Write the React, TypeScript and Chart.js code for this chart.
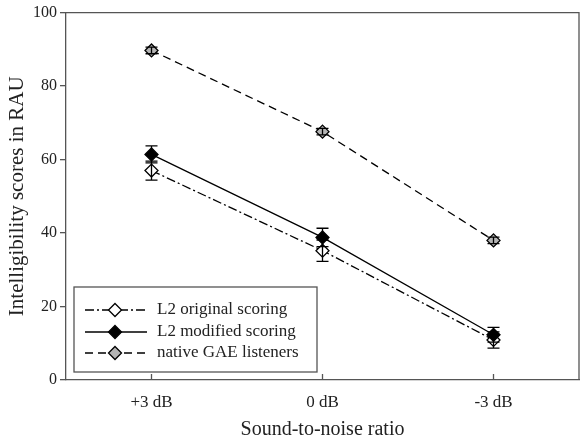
import React, { useEffect, useRef } from "react";
import { Chart, registerables } from "chart.js";
Chart.register(...registerables);

const categories = ["+3 dB", "0 dB", "-3 dB"];
const seriesNames = ["L2 original scoring", "L2 modified scoring", "native GAE listeners"];
const originalValues = [57, 35.2, 10.9];
const originalErrors = [2.6, 2.9, 2.2];
const modifiedValues = [61.4, 38.8, 12.3];
const modifiedErrors = [2.3, 2.5, 2.0];
const nativeValues = [89.7, 67.6, 38];
const nativeErrors = [0.9, 0.9, 0.9];
const yMin = 0;
const yMax = 100;
const yStep = 20;

const FONT = "'Liberation Serif', 'Times New Roman', serif";
const AXIS = "#555";
const TEXT = "#222";

const errorBarPlugin = {
  id: "errorBars",
  afterDatasetsDraw(chart: any) {
    const ctx = chart.ctx;
    const yScale = chart.scales.y;
    chart.data.datasets.forEach((ds: any, i: number) => {
      const meta = chart.getDatasetMeta(i);
      if (!ds.errors) return;
      ctx.save();
      ctx.strokeStyle = "#000";
      ctx.lineWidth = 1.3;
      ctx.setLineDash([]);
      meta.data.forEach((el: any, j: number) => {
        const v = ds.data[j];
        const e = ds.errors[j];
        const yt = yScale.getPixelForValue(v + e);
        const yb = yScale.getPixelForValue(v - e);
        const x = el.x;
        ctx.beginPath();
        ctx.moveTo(x, yt);
        ctx.lineTo(x, yb);
        ctx.moveTo(x - 6, yt);
        ctx.lineTo(x + 6, yt);
        ctx.moveTo(x - 6, yb);
        ctx.lineTo(x + 6, yb);
        ctx.stroke();
      });
      ctx.restore();
    });
  },
};

function drawDiamond(ctx: CanvasRenderingContext2D, x: number, y: number, r: number, fill: string) {
  ctx.beginPath();
  ctx.moveTo(x, y - r);
  ctx.lineTo(x + r, y);
  ctx.lineTo(x, y + r);
  ctx.lineTo(x - r, y);
  ctx.closePath();
  ctx.fillStyle = fill;
  ctx.fill();
  ctx.strokeStyle = "#000";
  ctx.lineWidth = 1.3;
  ctx.setLineDash([]);
  ctx.stroke();
}

const framePlugin = {
  id: "frameAndLegend",
  afterDraw(chart: any) {
    const ctx = chart.ctx;
    const { left, right, top, bottom } = chart.chartArea;
    const xScale = chart.scales.x;
    ctx.save();
    ctx.strokeStyle = AXIS;
    ctx.lineWidth = 1.3;
    ctx.beginPath();
    ctx.moveTo(left, top);
    ctx.lineTo(right, top);
    ctx.lineTo(right, bottom);
    ctx.stroke();
    // inward x ticks
    categories.forEach((_, i) => {
      const x = xScale.getPixelForValue(i);
      ctx.beginPath();
      ctx.moveTo(x, bottom);
      ctx.lineTo(x, bottom - 6);
      ctx.stroke();
    });
    // legend
    const bx = left + 8;
    const by = bottom - 93;
    const bw = 243;
    const bh = 85;
    ctx.fillStyle = "#fff";
    ctx.fillRect(bx, by, bw, bh);
    ctx.strokeStyle = AXIS;
    ctx.strokeRect(bx, by, bw, bh);
    const order = [1, 0, 2];
    const rowY = [by + 23, by + 45, by + 66];
    order.forEach((di, k) => {
      const ds = chart.data.datasets[di];
      const y = rowY[k];
      ctx.strokeStyle = "#000";
      ctx.lineWidth = 1.3;
      ctx.setLineDash(ds.borderDash || []);
      ctx.beginPath();
      ctx.moveTo(bx + 11, y);
      ctx.lineTo(bx + 73, y);
      ctx.stroke();
      drawDiamond(ctx, bx + 41, y, 6.5, ds.pointBackgroundColor);
      ctx.fillStyle = TEXT;
      ctx.font = `17px ${FONT}`;
      ctx.textBaseline = "middle";
      ctx.textAlign = "left";
      ctx.fillText(ds.label, bx + 83, y);
    });
    ctx.restore();
  },
};

export default function App() {
  const ref = useRef<HTMLCanvasElement>(null);
  useEffect(() => {
    document.body.style.margin = "0";
    const canvas = ref.current!;
    const common = {
      borderColor: "#000",
      borderWidth: 1.3,
      pointStyle: "rectRot",
      pointRadius: 6.5,
      pointBorderColor: "#000",
      pointBorderWidth: 1.3,
      tension: 0,
      fill: false,
    };
    const chart = new Chart(canvas, {
      type: "line",
      data: {
        labels: categories,
        datasets: [
          { ...common, label: seriesNames[1], data: modifiedValues, errors: modifiedErrors, backgroundColor: "#000", pointBackgroundColor: "#000", borderDash: [], order: 0 },
          { ...common, label: seriesNames[0], data: originalValues, errors: originalErrors, backgroundColor: "#fff", pointBackgroundColor: "#fff", borderDash: [9, 3, 2, 3], order: 1 },
          { ...common, label: seriesNames[2], data: nativeValues, errors: nativeErrors, backgroundColor: "#b4b4b4", pointBackgroundColor: "#b4b4b4", borderDash: [8, 5], order: 2 },
        ] as any,
      },
      options: {
        responsive: false,
        animation: false,
        layout: { autoPadding: false, padding: { top: 12, right: 1, left: 0, bottom: 0 } },
        plugins: { legend: { display: false }, tooltip: { enabled: false } },
        scales: {
          x: {
            type: "category",
            offset: true,
            grid: { display: false },
            border: { display: true, color: AXIS, width: 1.3 },
            ticks: { color: TEXT, font: { family: FONT, size: 17 }, padding: 4, maxRotation: 0 },
            title: { display: true, text: "Sound-to-noise ratio", color: TEXT, font: { family: FONT, size: 20 }, padding: { top: 0, bottom: 2 } },
            afterFit: (s: any) => { s.height = 64; },
          },
          y: {
            min: yMin,
            max: yMax,
            ticks: { stepSize: yStep, color: TEXT, font: { family: FONT, size: 16 }, padding: 3 },
            grid: { drawOnChartArea: false, drawTicks: true, tickLength: 6, color: AXIS, lineWidth: 1.3 },
            border: { display: true, color: AXIS, width: 1.3 },
            title: { display: true, text: "Intelligibility scores in RAU", color: TEXT, font: { family: FONT, size: 21 }, padding: { top: 5, bottom: 0 } },
            afterFit: (s: any) => { s.width = 66; },
          },
        },
      } as any,
      plugins: [errorBarPlugin, framePlugin],
    });
    return () => chart.destroy();
  }, []);
  return (
    <div style={{ position: "absolute", left: 0, top: 0, width: 580, height: 444, background: "#fff" }}>
      <canvas ref={ref} width={580} height={444} />
    </div>
  );
}
